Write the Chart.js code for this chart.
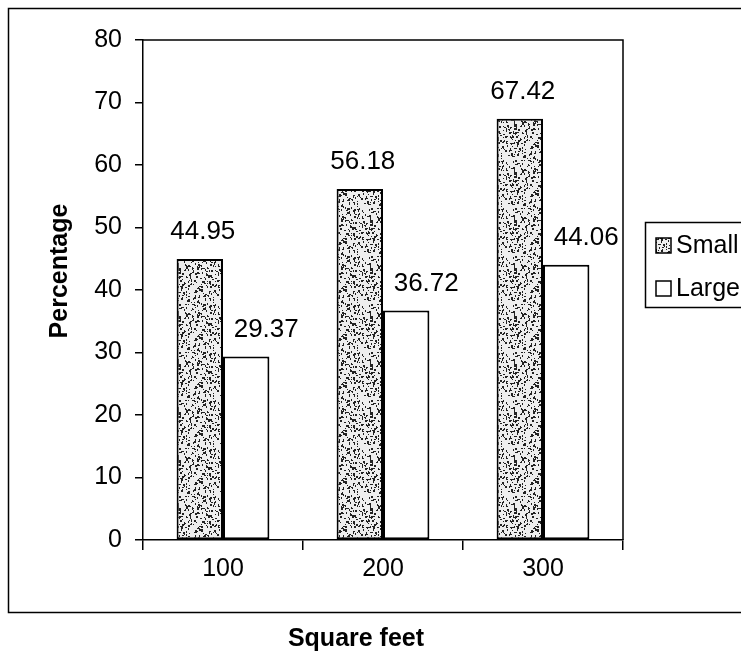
<!DOCTYPE html>
<html>
<head>
<meta charset="utf-8">
<script src="https://cdn.jsdelivr.net/npm/chart.js@4.4.1/dist/chart.umd.min.js"></script>
<style>
  html, body { margin: 0; padding: 0; background: #fff; }
</style>
</head>
<body>
<canvas id="myChart" width="741" height="656"></canvas>
<script>
const categories = ['100', '200', '300'];
const smallValues = [44.95, 56.18, 67.42];
const largeValues = [29.37, 36.72, 44.06];
const seriesNames = ['Small', 'Large'];
const yTicks = [0, 10, 20, 30, 40, 50, 60, 70, 80];
const xTitle = 'Square feet';
const yTitle = 'Percentage';

const FONT = '"Liberation Sans", Arial, sans-serif';

// grey stipple texture for the "Small" bars (fixed seed, texture only)
function makeStipple() {
    const c = document.createElement('canvas');
    c.width = 48;
    c.height = 48;
    const g = c.getContext('2d');
    g.fillStyle = '#eeeeee';
    g.fillRect(0, 0, 48, 48);
    g.fillStyle = '#222';
    let s = 24680;
    for (let i = 0; i < 300; i++) {
        s = (s * 16807) % 2147483647;
        const x = s % 48;
        s = (s * 16807) % 2147483647;
        const y = s % 48;
        g.fillRect(x, y, 1 + (i % 3 === 0 ? 1 : 0), 1 + (i % 2));
    }
    return c;
}

const ctx = document.getElementById('myChart').getContext('2d');
const stipple = ctx.createPattern(makeStipple(), 'repeat');

// value labels: Excel put the "Large" ones a bit to the right
const labelShift = [3, 20];

const decorations = {
    id: 'decorations',
    beforeDraw(chart) {
        const c = chart.ctx;
        c.save();
        c.fillStyle = '#fff';
        c.fillRect(0, 0, chart.width, chart.height);
        c.restore();
    },
    afterDatasetsDraw(chart) {
        const c = chart.ctx;
        c.save();
        c.fillStyle = '#000';
        c.font = '26px ' + FONT;
        c.textAlign = 'center';
        c.textBaseline = 'bottom';
        chart.data.datasets.forEach((ds, i) => {
            chart.getDatasetMeta(i).data.forEach((bar, j) => {
                c.fillText(ds.data[j].toFixed(2), bar.x + labelShift[i], bar.y - 14);
            });
        });
        c.restore();
    },
    afterDraw(chart) {
        const c = chart.ctx;
        const a = chart.chartArea;
        c.save();
        c.strokeStyle = '#000';
        c.lineWidth = 1.5;
        // outer chart frame
        c.strokeRect(8.5, 8.5, 760, 604);
        // plot area top and right edges
        c.beginPath();
        c.moveTo(a.left, a.top);
        c.lineTo(a.right, a.top);
        c.lineTo(a.right, a.bottom);
        c.stroke();

        // legend box
        c.strokeRect(645.5, 222.5, 120, 85);
        const fills = [stipple, '#fff'];
        c.font = '25px ' + FONT;
        c.textAlign = 'left';
        c.textBaseline = 'middle';
        seriesNames.forEach((name, i) => {
            const y = 245 + i * 43;
            c.fillStyle = fills[i];
            c.fillRect(656, y - 7, 15, 15);
            c.strokeRect(656, y - 7, 15, 15);
            c.fillStyle = '#000';
            c.fillText(name, 676, y + 1);
        });

        // axis titles
        c.font = 'bold 25px ' + FONT;
        c.textAlign = 'center';
        c.textBaseline = 'middle';
        c.fillText(xTitle, 356, 639);
        c.translate(60, 271);
        c.rotate(-Math.PI / 2);
        c.fillText(yTitle, 0, 0);
        c.restore();
    }
};

const config = {
    type: 'bar',
    data: {
        labels: categories,
        datasets: [{
            label: seriesNames[0],
            data: smallValues,
            backgroundColor: stipple,
            borderColor: '#000',
            borderWidth: 2,
            borderSkipped: false
        }, {
            label: seriesNames[1],
            data: largeValues,
            backgroundColor: '#fff',
            borderColor: '#000',
            borderWidth: 2,
            borderSkipped: false
        }]
    },
    options: {
        responsive: false,
        animation: false,
        devicePixelRatio: 1,
        categoryPercentage: 0.58,
        barPercentage: 1.0,
        layout: {
            padding: { top: 40, right: 118, left: 0, bottom: 0 }
        },
        plugins: {
            legend: { display: false },
            tooltip: { enabled: false }
        },
        scales: {
            x: {
                afterFit: (s) => { s.height = 116; },
                grid: {
                    drawOnChartArea: false,
                    color: '#000',
                    tickLength: 10,
                    lineWidth: 1.5
                },
                border: { color: '#000', width: 1.5 },
                ticks: {
                    color: '#000',
                    padding: 4,
                    font: { family: FONT, size: 25 }
                }
            },
            y: {
                min: 0,
                max: 80,
                afterFit: (s) => { s.width = 143; },
                afterBuildTicks: (s) => { s.ticks = yTicks.map(v => ({ value: v })); },
                grid: {
                    drawOnChartArea: false,
                    color: '#000',
                    tickLength: 8,
                    lineWidth: 1.5
                },
                border: { color: '#000', width: 1.5 },
                ticks: {
                    color: '#000',
                    padding: 13,
                    font: { family: FONT, size: 25 }
                }
            }
        }
    },
    plugins: [decorations]
};

new Chart(ctx, config);
</script>
</body>
</html>
